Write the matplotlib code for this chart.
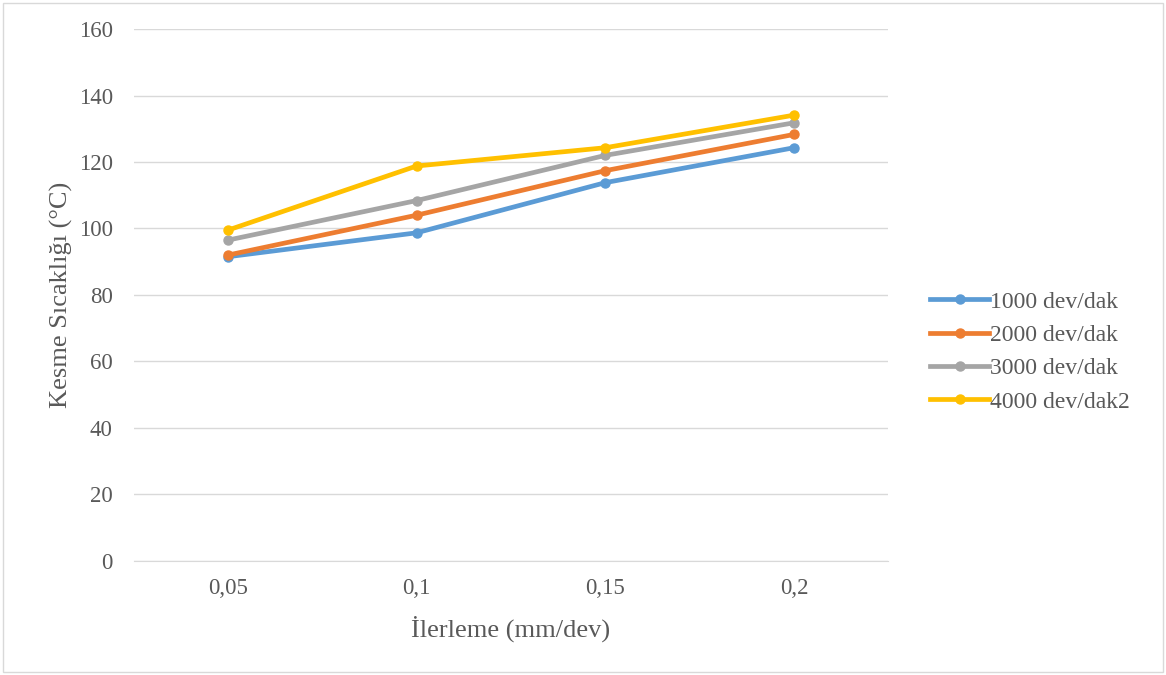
import matplotlib.pyplot as plt
from matplotlib.patches import Rectangle

plt.rcParams['font.family'] = ['Liberation Serif', 'DejaVu Serif']

# İlerleme kategorileri
ilerleme = ['0,05', '0,1', '0,15', '0,2']

# Kesme sıcaklığı değerleri (°C)
dev_1000 = [91.5, 98.7, 113.8, 124.3]
dev_2000 = [92.0, 104.0, 117.4, 128.3]
dev_3000 = [96.5, 108.4, 122.0, 131.8]
dev_4000 = [99.5, 118.8, 124.3, 134.1]

seriler = ['1000 dev/dak', '2000 dev/dak', '3000 dev/dak', '4000 dev/dak2']
renkler = ['#5B9BD5', '#ED7D31', '#A5A5A5', '#FFC000']

fig = plt.figure(figsize=(11.66, 6.75), dpi=100)
ax = fig.add_axes([0.1145, 0.169, 0.6475, 0.788])

x = list(range(len(ilerleme)))
for veri, ad, renk in zip([dev_1000, dev_2000, dev_3000, dev_4000], seriler, renkler):
    ax.plot(x, veri, color=renk, linewidth=3.4, marker='o', markersize=6.5, label=ad)

ax.set_xlim(-0.5, len(ilerleme) - 0.5)
ax.set_ylim(0, 160)
ax.set_yticks(range(0, 161, 20))
ax.set_xticks(x)
ax.set_xticklabels(ilerleme)
ax.grid(axis='y', color='#D9D9D9', linewidth=1)
ax.set_axisbelow(True)
for s in ['top', 'right', 'left']:
    ax.spines[s].set_visible(False)
ax.spines['bottom'].set_color('#D9D9D9')
ax.tick_params(length=0, labelsize=16.5, labelcolor='#595959')
ax.tick_params(axis='y', pad=15)
ax.tick_params(axis='x', pad=12)

ax.set_xlabel('İlerleme (mm/dev)', fontsize=19, color='#595959', labelpad=12)
ax.set_ylabel('Kesme Sıcaklığı (°C)', fontsize=19, color='#595959', labelpad=4)

ax.legend(loc='center left', bbox_to_anchor=(930 / 1166, 1 - 352 / 675),
          bbox_transform=fig.transFigure, frameon=False, borderpad=0, borderaxespad=0,
          fontsize=17, labelcolor='#595959', handlelength=2.5, handletextpad=0.05,
          labelspacing=0.5)

fig.patches.append(Rectangle((0.003, 0.004), 0.994, 0.992, transform=fig.transFigure,
                             fill=False, edgecolor='#D9D9D9', linewidth=1))

plt.savefig('out.png', dpi=100)
